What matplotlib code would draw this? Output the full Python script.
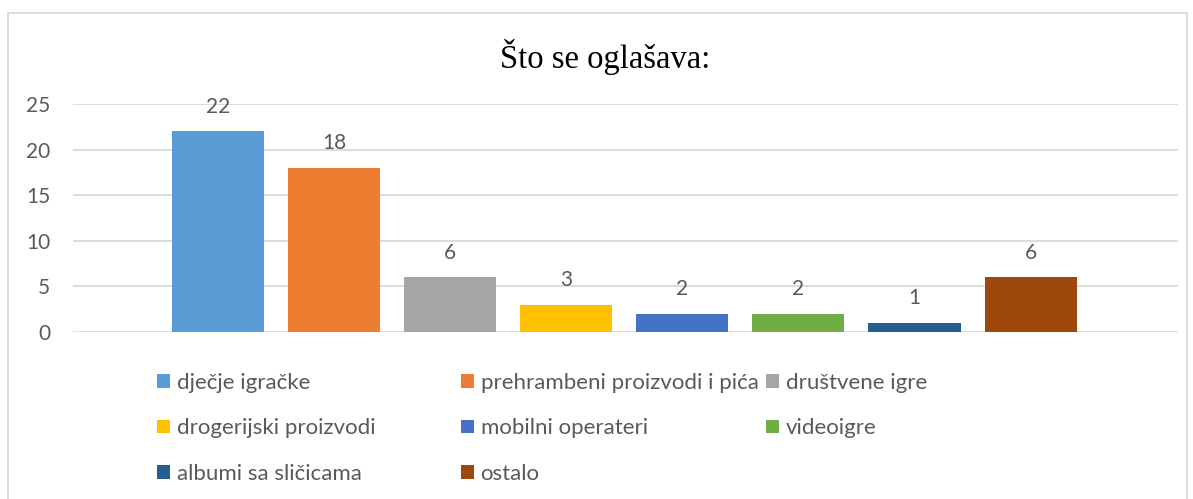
import matplotlib
matplotlib.use("Agg")
import matplotlib.pyplot as plt
from matplotlib.patches import Rectangle

title = "Što se oglašava:"
categories = ["dječje igračke", "prehrambeni proizvodi i pića", "društvene igre",
              "drogerijski proizvodi", "mobilni operateri", "videoigre",
              "albumi sa sličicama", "ostalo"]
values = [22, 18, 6, 3, 2, 2, 1, 6]
colors = ["#5B9BD5", "#ED7D31", "#A5A5A5", "#FFC000", "#4472C4", "#70AD47", "#255E91", "#9E480E"]
yticks = [0, 5, 10, 15, 20, 25]

plt.rcParams['font.family'] = ['Lato', 'DejaVu Sans']
txt = "#595959"
grid = "#D9D9D9"

W, H = 1193, 499
fig = plt.figure(figsize=(W/100, H/100), dpi=100)

# outer chart border
fig.patches.append(Rectangle((8/W, -0.1), (1187-8)/W, 1.1 - 13/H, transform=fig.transFigure,
                             fill=False, edgecolor=grid, linewidth=1.3))

ax = fig.add_axes([73/W, 1-332/H, (1178-73)/W, (332-104)/H])
bars = []
for i, (v, c, lab) in enumerate(zip(values, colors, categories)):
    b = ax.bar(i, v, width=0.793, color=c, label=lab, zorder=3)
    bars.append(b)
    ax.annotate(str(v), (i, v), xytext=(0, 10.5), textcoords="offset points",
                ha="center", va="bottom", fontsize=15, color=txt)

ax.set_xlim(-1.25, 8.27)
ax.set_ylim(0, 25)
ax.set_yticks(yticks)
ax.set_xticks([])
ax.tick_params(axis='y', length=0, labelsize=15, labelcolor=txt, pad=16.5)
for s in ax.spines.values():
    s.set_visible(False)
ax.grid(axis='y', color=grid, linewidth=1.3, zorder=0)
ax.set_axisbelow(True)

fig.text(605/W, 1-57/H, title, ha="center", va="center", fontsize=23.5,
         family=["Liberation Serif", "DejaVu Serif"], color="black")

# legend in three equal-width columns
col_x = [157, 461, 766]
col_items = [[0, 3, 6], [1, 4, 7], [2, 5]]
for cx, items in zip(col_x, col_items):
    fig.legend([bars[k] for k in items], [categories[k] for k in items],
               loc="upper left", bbox_to_anchor=(cx/W, 1-373/H), frameon=False,
               fontsize=16, labelcolor=txt, handlelength=0.58, handleheight=0.58,
               handletextpad=0.3, labelspacing=1.14, borderaxespad=0, borderpad=0)

fig.savefig("out.png", dpi=100)
